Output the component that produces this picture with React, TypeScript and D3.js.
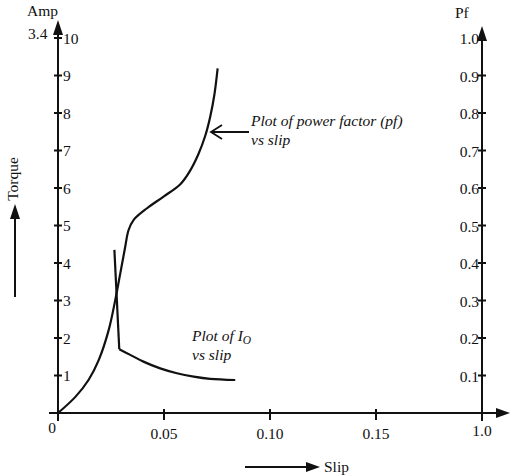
import React from "react";
import * as d3 from "d3";

// X axis (slip) ticks — last position labelled "1.0" as in the reference
const slipTickValues = [0, 0.05, 0.1, 0.15, 0.2];
const slipTickLabels = ["0", "0.05", "0.10", "0.15", "1.0"];

// Left axis (Amp / Torque) ticks
const ampTicks = [1, 2, 3, 4, 5, 6, 7, 8, 9, 10];
// Right axis (Pf) ticks
const pfTicks = [0.1, 0.2, 0.3, 0.4, 0.5, 0.6, 0.7, 0.8, 0.9, 1.0];
const pfTickLabels = ["0.1", "0.2", "0.3", "0.4", "0.5", "0.6", "0.7", "0.8", "0.9", "1.0"];

// Power factor vs slip
const pfSlip = [0, 0.0082, 0.0144, 0.0192, 0.0239, 0.027, 0.0294, 0.0316, 0.0333, 0.0357, 0.042, 0.0498, 0.0577, 0.0622, 0.0662, 0.0695, 0.0718, 0.0738, 0.0753];
const pfVal = [0, 0.043, 0.088, 0.141, 0.221, 0.301, 0.373, 0.44, 0.488, 0.515, 0.546, 0.577, 0.61, 0.645, 0.69, 0.74, 0.79, 0.85, 0.919];

// No-load current I0 vs slip (steep drop, then decay)
const ioSlip = [0.0266, 0.0289, 0.0341, 0.0403, 0.0482, 0.0561, 0.064, 0.0718, 0.0836];
const ioAmp = [4.35, 1.7, 1.55, 1.37, 1.19, 1.06, 0.97, 0.91, 0.88];

const W = 510;
const H = 476;
const serif = "'Liberation Serif', 'DejaVu Serif', serif";

export default function App() {
  const x = d3.scaleLinear().domain([0, 0.2]).range([58, 482]);
  const yAmp = d3.scaleLinear().domain([0, 10]).range([413, 38]);
  const yPf = d3.scaleLinear().domain([0, 1]).range([413, 38]);

  const pfLine = d3
    .line<[number, number]>()
    .x((d) => x(d[0]))
    .y((d) => yPf(d[1]))
    .curve(d3.curveCatmullRom.alpha(0.5));
  const ampLineSmooth = d3
    .line<[number, number]>()
    .x((d) => x(d[0]))
    .y((d) => yAmp(d[1]))
    .curve(d3.curveCatmullRom.alpha(0.5));
  const ampLineStraight = d3
    .line<[number, number]>()
    .x((d) => x(d[0]))
    .y((d) => yAmp(d[1]));

  const pf = pfSlip.map((s, i) => [s, pfVal[i]] as [number, number]);
  const io = ioSlip.map((s, i) => [s, ioAmp[i]] as [number, number]);

  const x0 = x(0);
  const xR = x(0.2);
  const y0 = yAmp(0);
  const fs = 15.5;
  const afs = 15.5;

  return (
    <svg
      width={W}
      height={H}
      style={{ position: "absolute", left: 0, top: 0, background: "#fff" }}
      fontFamily={serif}
    >
      <rect width={W} height={H} fill="#fff" />
      {/* Axes */}
      <line x1={x0} y1={421} x2={x0} y2={30} stroke="#111" strokeWidth={2} />
      <path d={`M${x0},20 L${x0 - 5},35 L${x0 + 5},35 Z`} fill="#111" />
      <line x1={xR} y1={421} x2={xR} y2={36} stroke="#111" strokeWidth={2} />
      <path d={`M${xR},26 L${xR - 5},41 L${xR + 5},41 Z`} fill="#111" />
      <line x1={49} y1={y0} x2={500} y2={y0} stroke="#111" strokeWidth={2} />
      <path d={`M510,${y0} L496,${y0 - 5} L496,${y0 + 5} Z`} fill="#111" />

      {/* Left ticks */}
      {ampTicks.map((t) => (
        <g key={"a" + t}>
          <line x1={x0 - 4} x2={x0 + 4} y1={yAmp(t)} y2={yAmp(t)} stroke="#111" strokeWidth={2} />
          <text x={x0 + 5} y={yAmp(t) + 5.5} fontSize={fs} fill="#111">
            {t}
          </text>
        </g>
      ))}
      {/* Right ticks */}
      {pfTicks.map((t, i) => (
        <g key={"p" + t}>
          {i < pfTicks.length - 1 && (
            <line x1={xR - 4} x2={xR + 4} y1={yPf(t)} y2={yPf(t)} stroke="#111" strokeWidth={2} />
          )}
          <text x={xR - 3} y={yPf(t) + 6} fontSize={fs} fill="#111" textAnchor="end">
            {pfTickLabels[i]}
          </text>
        </g>
      ))}
      {/* Bottom ticks */}
      {slipTickValues.map((t, i) => (
        <g key={"s" + t}>
          {i > 0 && (
            <line x1={x(t)} x2={x(t)} y1={y0 - 4} y2={y0 + 7} stroke="#111" strokeWidth={2} />
          )}
          <text
            x={i === 0 ? x(t) - 6 : x(t)}
            y={i === 0 ? 433 : i === slipTickLabels.length - 1 ? 436 : 439}
            fontSize={fs}
            fill="#111"
            textAnchor="middle"
          >
            {slipTickLabels[i]}
          </text>
        </g>
      ))}

      {/* Axis titles */}
      <text x={27} y={16} fontSize={fs} fill="#111">Amp</text>
      <text x={28} y={39} fontSize={fs} fill="#111">3.4</text>
      <text x={455} y={18} fontSize={fs} fill="#111">Pf</text>

      {/* Torque label with arrow */}
      <text
        transform="translate(18,179) rotate(-90)"
        fontSize={fs}
        fill="#111"
        textAnchor="middle"
      >
        Torque
      </text>
      <line x1={15} y1={297} x2={15} y2={214} stroke="#111" strokeWidth={2} />
      <path d="M15,204 L10,219 L20,219 Z" fill="#111" />

      {/* Slip label with arrow */}
      <line x1={245} y1={467} x2={310} y2={467} stroke="#111" strokeWidth={2} />
      <path d="M320,467 L306,462 L306,472 Z" fill="#111" />
      <text x={324} y={472} fontSize={fs} fill="#111">Slip</text>

      {/* Curves */}
      <path d={pfLine(pf) || ""} fill="none" stroke="#111" strokeWidth={2.2} />
      <path d={ampLineStraight(io.slice(0, 2)) || ""} fill="none" stroke="#111" strokeWidth={2.2} />
      <path d={ampLineSmooth(io.slice(1)) || ""} fill="none" stroke="#111" strokeWidth={2.2} />

      {/* Annotations */}
      <line x1={249} y1={132} x2={212} y2={132} stroke="#111" strokeWidth={1.8} />
      <path d="M222,125 L211,132 L222,139" fill="none" stroke="#111" strokeWidth={1.8} />
      <text x={251} y={126} fontSize={afs} fontStyle="italic" fill="#111">
        Plot of power factor (pf)
      </text>
      <text x={251} y={145} fontSize={afs} fontStyle="italic" fill="#111">
        vs slip
      </text>
      <text x={192} y={341} fontSize={afs} fontStyle="italic" fill="#111">
        Plot of I
        <tspan fontSize={11.5} dy={3}>O</tspan>
      </text>
      <text x={192} y={360} fontSize={afs} fontStyle="italic" fill="#111">
        vs slip
      </text>
    </svg>
  );
}
